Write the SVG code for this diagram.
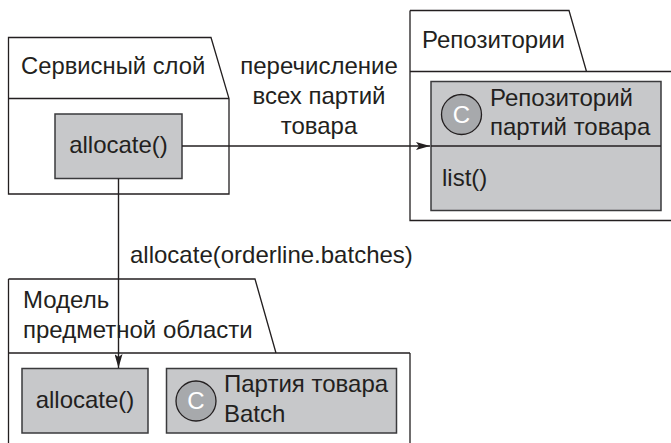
<svg xmlns="http://www.w3.org/2000/svg" width="671" height="443" viewBox="0 0 671 443">
<style>
text{font-family:"Liberation Sans",Arial,sans-serif;font-size:24px;fill:#231f20}
.m{text-anchor:middle}
.pkg{fill:#fff;stroke:#231f20;stroke-width:1.3}
.box{fill:#c7c8ca;stroke:#3a3a3c;stroke-width:1.5}
.ln{fill:none;stroke:#231f20;stroke-width:1.3}
.circ{fill:#a7a9ac;stroke:#231f20;stroke-width:1.3}
.c{fill:#fff;text-anchor:middle}
.conn{fill:none;stroke:#231f20;stroke-width:1.4}
</style>
<defs>
<marker id="arrow" markerUnits="userSpaceOnUse" markerWidth="15" markerHeight="8" refX="14" refY="4" orient="auto">
<path d="M0 0L14 4L0 8L3 4Z" fill="#231f20"/>
</marker>
</defs>
<g id="service-layer">
<path class="pkg" d="M8.500 37.500H211L229 98.500V194H8.500Z"/>
<path class="ln" d="M8.500 98.500H229"/>
<text x="21" y="74" style="font-size:23.800px">Сервисный слой</text>
<g id="service-allocate">
<rect class="box" x="55" y="114" width="127" height="64.500"/>
<text class="m" x="118.500" y="153">allocate()</text>
</g>
</g>
<g id="repositories">
<path class="pkg" d="M410 10.500H569L586.500 71.500H671M410 10.500V220.500H671M410 71.500H586.500"/>
<text x="422" y="48">Репозитории</text>
<g id="batch-repository">
<rect class="box" x="431" y="81.500" width="230" height="129"/>
<path class="ln" d="M431 146H661"/>
<circle class="circ" cx="461.500" cy="114.500" r="20"/>
<text class="c" x="461.500" y="122.500">C</text>
<text x="490" y="106">Репозиторий</text>
<text x="490" y="135">партий товара</text>
<text x="442" y="186">list()</text>
</g>
</g>
<g id="domain-model">
<path class="pkg" d="M8.500 279H255L276 353H410M8.500 279V443M8.500 353H276M410 353V443"/>
<text x="23" y="308">Модель</text>
<text x="23" y="338">предметной области</text>
<g id="domain-allocate">
<rect class="box" x="22" y="368.500" width="126" height="64.500"/>
<text class="m" x="85" y="408">allocate()</text>
</g>
<g id="batch">
<rect class="box" x="166.500" y="368.500" width="230" height="64.500"/>
<circle class="circ" cx="196" cy="401" r="20"/>
<text class="c" x="196" y="409">C</text>
<text x="224" y="392">Партия товара</text>
<text x="224" y="422">Batch</text>
</g>
</g>
<g id="connectors">
<path class="conn" d="M182 146H430" marker-end="url(#arrow)"/>
<path class="conn" d="M118.500 178.500V368" marker-end="url(#arrow)"/>
</g>
<g id="labels">
<text class="m" x="319" y="74">перечисление</text>
<text class="m" x="319" y="104">всех партий</text>
<text class="m" x="319" y="134">товара</text>
<text x="130" y="263">allocate(orderline.batches)</text>
</g>
</svg>
